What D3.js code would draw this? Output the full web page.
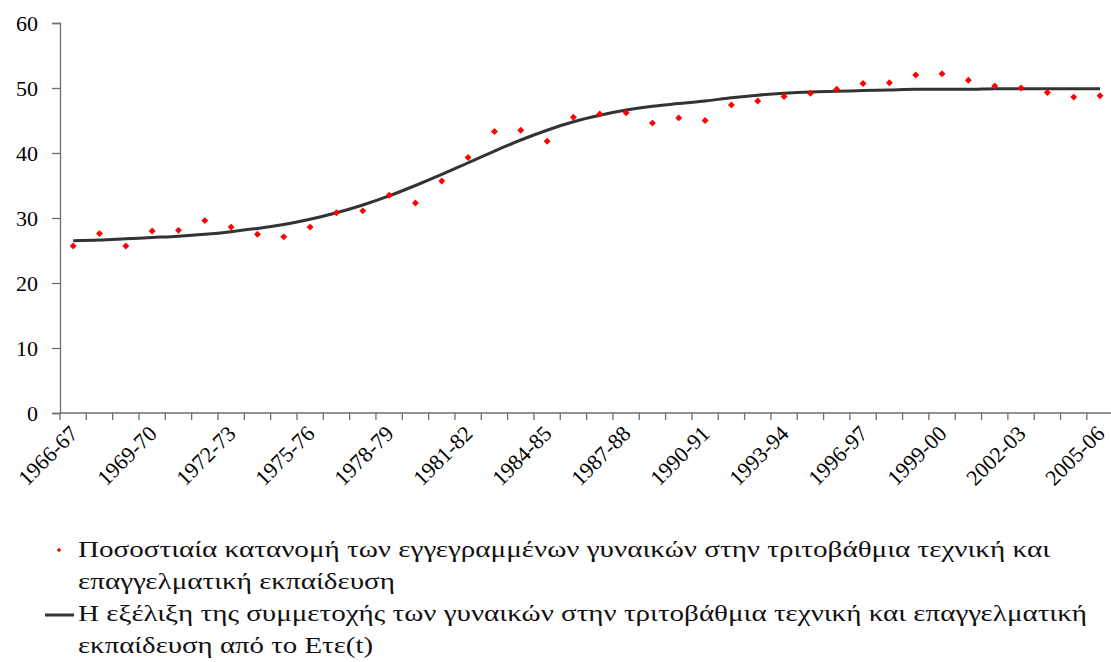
<!DOCTYPE html>
<html>
<head>
<meta charset="utf-8">
<script src="https://cdn.jsdelivr.net/npm/d3@7"></script>
<style>
  html, body { margin: 0; padding: 0; background: #fff; }
  svg { display: block; }
</style>
</head>
<body>
<svg id="chart" width="1111" height="662"></svg>
<script>
const categories = ["1966-67","1967-68","1968-69","1969-70","1970-71","1971-72","1972-73","1973-74","1974-75","1975-76",
  "1976-77","1977-78","1978-79","1979-80","1980-81","1981-82","1982-83","1983-84","1984-85","1985-86",
  "1986-87","1987-88","1988-89","1989-90","1990-91","1991-92","1992-93","1993-94","1994-95","1995-96",
  "1996-97","1997-98","1998-99","1999-00","2000-01","2001-02","2002-03","2003-04","2004-05","2005-06"];
const observed = [25.7,27.6,25.7,28.0,28.1,29.6,28.6,27.5,27.1,28.6,
  30.8,31.1,33.5,32.3,35.7,39.3,43.3,43.5,41.8,45.5,
  46.0,46.2,44.6,45.4,45.0,47.4,48.0,48.7,49.2,49.8,
  50.7,50.8,52.0,52.2,51.2,50.3,50.0,49.3,48.6,48.8];
const fitted = [26.5,26.6,26.8,27.0,27.2,27.5,27.9,28.4,29.0,29.8,
  30.8,32.0,33.4,35.0,36.7,38.5,40.3,42.0,43.5,44.8,
  45.8,46.6,47.2,47.6,48.0,48.5,48.9,49.2,49.4,49.5,
  49.6,49.7,49.8,49.8,49.8,49.9,49.9,49.9,49.9,49.9];
const shownLabels = ["1966-67","1969-70","1972-73","1975-76","1978-79","1981-82","1984-85","1987-88","1990-91","1993-94","1996-97","1999-00","2002-03","2005-06"];
const yTicks = [0,10,20,30,40,50,60];
const legendObserved = ["Ποσοστιαία κατανομή των εγγεγραμμένων γυναικών στην τριτοβάθμια τεχνική και", "επαγγελματική εκπαίδευση"];
const legendFitted = ["Η εξέλιξη της συμμετοχής των γυναικών στην τριτοβάθμια τεχνική και επαγγελματική", "εκπαίδευση από το Ετε(t)"];

const svg = d3.select("#chart");
const mLeft = 60, mTop = 23, mBottom = 413, mRight = 60 + 40 * 26.33;
const font = "Liberation Serif";

const x = d3.scaleBand().domain(categories).range([mLeft, mRight]).paddingInner(0).paddingOuter(0);
const y = d3.scaleLinear().domain([0, 60]).range([mBottom, mTop]);
const cx = d => x(d) + x.bandwidth() / 2;

// Y axis
const yAxis = svg.append("g").attr("transform", `translate(${mLeft},0)`)
  .call(d3.axisLeft(y).tickValues(yTicks).tickSize(8).tickPadding(14));
yAxis.select(".domain").attr("stroke", "#6e6e6e").attr("stroke-width", 1.3);
yAxis.selectAll(".tick line").attr("stroke", "#6e6e6e").attr("stroke-width", 1.3);
yAxis.selectAll(".tick text").style("font-family", font).attr("font-size", 22).attr("fill", "#000").attr("dy", "0.34em");

// X axis line and boundary ticks
const xAxis = svg.append("g").attr("transform", `translate(0,${mBottom})`)
  .call(d3.axisBottom(x).tickValues(shownLabels).tickSize(0).tickPadding(0));
xAxis.select(".domain").remove();
svg.append("line").attr("x1", mLeft).attr("x2", 1111).attr("y1", mBottom).attr("y2", mBottom)
  .attr("stroke", "#6e6e6e").attr("stroke-width", 1.3);
svg.append("g").selectAll("line").data(categories).join("line")
  .attr("x1", d => x(d)).attr("x2", d => x(d)).attr("y1", mBottom).attr("y2", mBottom + 7)
  .attr("stroke", "#6e6e6e").attr("stroke-width", 1.3);
xAxis.selectAll(".tick text")
  .style("font-family", font).attr("font-size", 22).attr("fill", "#000")
  .attr("text-anchor", "end").attr("dy", 0).attr("y", 0)
  .attr("transform", "translate(6,22) rotate(-45)");

// Fitted line
const line = d3.line().x((d, i) => cx(categories[i])).y(d => y(d)).curve(d3.curveMonotoneX);
svg.append("path").datum(fitted).attr("d", line)
  .attr("fill", "none").attr("stroke", "#333").attr("stroke-width", 3);

// Observed points
const diamond = d3.symbol(d3.symbolSquare, 24);
svg.append("g").selectAll("path").data(observed).join("path")
  .attr("d", diamond)
  .attr("transform", (d, i) => `translate(${cx(categories[i])},${y(d)}) rotate(45)`)
  .attr("fill", "#ff0000");

// Legend
const lg = svg.append("g");
lg.append("path").attr("d", d3.symbol(d3.symbolSquare, 10)).attr("transform", "translate(59,550) rotate(45)").attr("fill", "#ff0000");
lg.append("line").attr("x1", 45).attr("x2", 74).attr("y1", 615).attr("y2", 615).attr("stroke", "#333").attr("stroke-width", 3);
const legLines = [
  {t: legendObserved[0], y: 557, w: 972},
  {t: legendObserved[1], y: 589, w: 317},
  {t: legendFitted[0], y: 621, w: 1009},
  {t: legendFitted[1], y: 653, w: 295}
];
lg.selectAll("text").data(legLines).join("text")
  .attr("x", 78).attr("y", d => d.y)
  .style("font-family", font).attr("font-size", 24).attr("fill", "#111")
  .attr("textLength", d => d.w).attr("lengthAdjust", "spacingAndGlyphs")
  .text(d => d.t);
</script>
</body>
</html>
